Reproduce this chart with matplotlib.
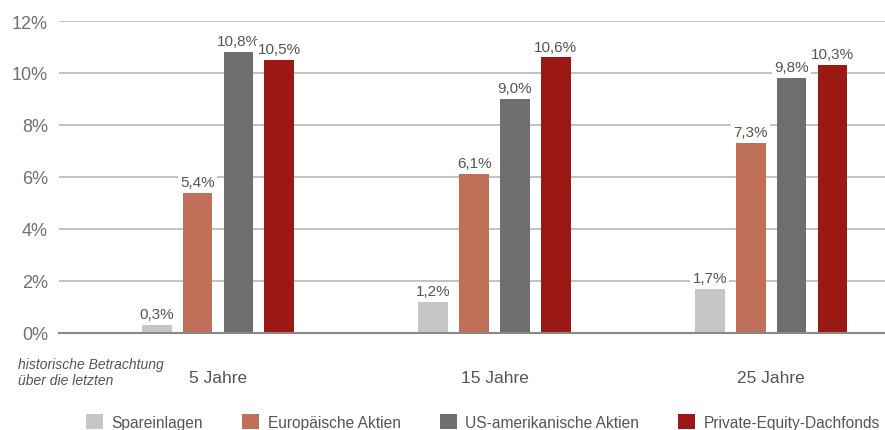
import matplotlib.pyplot as plt
from matplotlib.patches import Patch
import numpy as np

zeitraum = ["5 Jahre", "15 Jahre", "25 Jahre"]
serien = ["Spareinlagen", "Europäische Aktien", "US-amerikanische Aktien", "Private-Equity-Dachfonds"]
werte = [
    [0.3, 1.2, 1.7],
    [5.4, 6.1, 7.3],
    [10.8, 9.0, 9.8],
    [10.5, 10.6, 10.3],
]
farben = ["#c6c6c6", "#c07058", "#6e6e6e", "#9a1915"]
yticks = [0, 2, 4, 6, 8, 10, 12]

plt.rcParams['font.family'] = ['Liberation Sans', 'DejaVu Sans']

fig = plt.figure(figsize=(8.85, 4.31), dpi=100)
ax = fig.add_axes([59/885, 97/431, 1 - 59/885, 312/431])

x = np.arange(len(zeitraum))
breite = 0.108
abstand = 0.148
for i, (name, vals) in enumerate(zip(serien, werte)):
    pos = x + (i - 1.5) * abstand
    ax.bar(pos, vals, width=breite, color=farben[i], zorder=2, label=name)
    for p, v in zip(pos, vals):
        ax.text(p, v + 0.15, f"{v:.1f}%".replace(".", ","), ha="center", va="bottom",
                fontsize=11, color="#555555", zorder=4,
                bbox=dict(facecolor="white", edgecolor="none", pad=1.5))

ax.set_xlim(-0.575, 2.412)
ax.set_ylim(0, 12)
ax.set_yticks(yticks)
ax.set_yticklabels([f"{t}%" for t in yticks], fontsize=13, color="#707070")
ax.set_xticks(x)
ax.set_xticklabels(zeitraum, fontsize=12.5, color="#555555")
ax.tick_params(axis="both", length=0)
ax.tick_params(axis="x", pad=27)
ax.tick_params(axis="y", pad=8)
ax.yaxis.grid(True, color="#b8b8b8", linewidth=1.2, zorder=0)
ax.set_axisbelow(True)
for s in ["top", "right", "left"]:
    ax.spines[s].set_visible(False)
ax.spines["bottom"].set_color("#888888")
ax.spines["bottom"].set_linewidth(1.5)

fig.text(18/885, 1 - 373/431, "historische Betrachtung\nüber die letzten", fontsize=10,
         style="italic", color="#555555", va="center", linespacing=1.2)

handles = [Patch(facecolor=c, edgecolor="none") for c in farben]
fig.legend(handles, serien, loc="center", bbox_to_anchor=(483/885, 1 - 423/431), ncol=4,
           frameon=False, fontsize=11.2, handlelength=1.1, handleheight=1.1,
           columnspacing=2.5, handletextpad=0.55, labelcolor="#555555")

fig.savefig("out.png", dpi=100)
